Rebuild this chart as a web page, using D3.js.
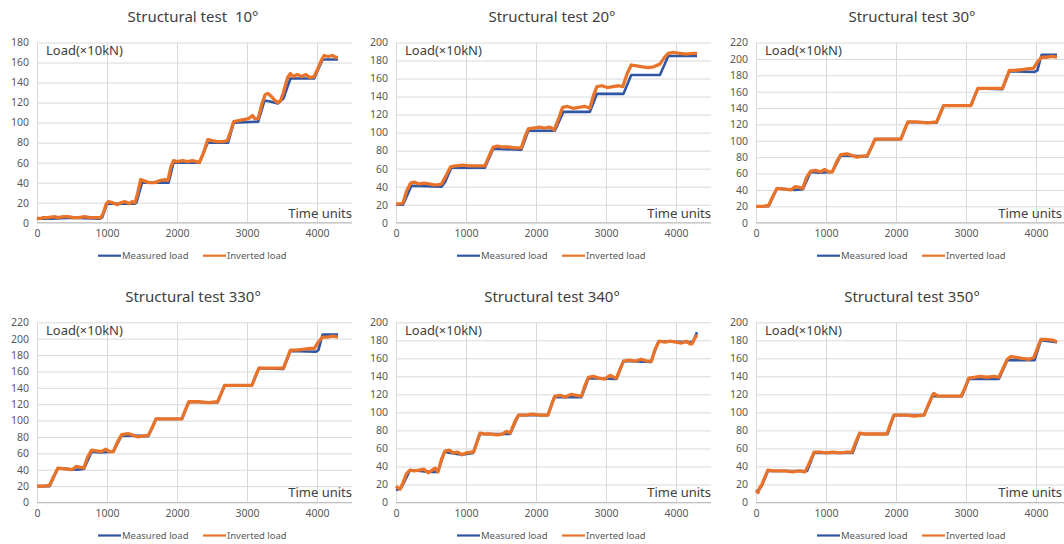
<!DOCTYPE html>
<html>
<head>
<meta charset="utf-8">
<script src="https://cdn.jsdelivr.net/npm/d3@7"></script>
<style>
  html, body { margin: 0; padding: 0; background: #fff; }
  svg { display: block; font-family: "Noto Sans", "Open Sans", sans-serif; }
</style>
</head>
<body>
<svg id="chart" width="1064" height="544"></svg>
<script>
// Load histories [time, load] for each structural test angle
const measured10 = [[0,4],[200,4],[500,5],[900,4],[930,5],[1000,19],[1400,19],[1420,20],[1500,40],[1880,40],[1950,60],[2320,60],[2440,80],[2730,80],[2810,100],[3160,101],[3250,122],[3330,121],[3440,119],[3520,124],[3620,144],[3960,144],[4080,163],[4300,163]];
const inverted10 = [[0,5],[40,4],[80,5],[150,5],[250,6],[300,5],[380,6],[450,6],[520,5],[600,5],[680,6],[760,5],[850,5],[910,5],[950,10],[990,19],[1020,21],[1080,20],[1150,18],[1200,20],[1260,21],[1320,19],[1360,21],[1400,20],[1440,30],[1480,43],[1520,42],[1600,40],[1680,40],[1760,42],[1830,43],[1870,42],[1910,55],[1950,62],[2000,61],[2080,62],[2150,61],[2220,62],[2280,61],[2320,60],[2380,70],[2440,83],[2500,82],[2580,81],[2660,81],[2720,82],[2770,92],[2810,101],[2880,102],[2950,103],[3020,104],[3080,107],[3110,104],[3160,104],[3210,118],[3260,128],[3300,129],[3350,126],[3400,122],[3440,120],[3480,122],[3520,130],[3580,145],[3620,149],[3660,146],[3720,148],[3780,146],[3840,148],[3900,145],[3960,146],[4000,152],[4060,162],[4100,167],[4160,166],[4220,167],[4270,165],[4300,165]];

const measured20 = [[0,20],[100,20],[220,41],[650,40],[700,45],[790,61],[1270,61],[1390,82],[1790,81],[1890,102],[2270,102],[2390,123],[2770,123],[2870,143],[3250,143],[3360,164],[3770,164],[3890,185],[4300,185]];
const inverted20 = [[0,21],[60,21],[100,22],[150,35],[210,44],[260,45],[330,43],[400,44],[470,43],[540,42],[600,42],[650,43],[700,50],[780,62],[850,63],[950,64],[1050,63],[1150,63],[1270,63],[1330,74],[1390,84],[1450,85],[1530,84],[1620,84],[1700,83],[1790,83],[1840,95],[1890,104],[1960,105],[2050,106],[2120,105],[2200,106],[2260,103],[2330,117],[2380,128],[2450,129],[2530,127],[2610,128],[2700,129],[2770,127],[2820,141],[2870,151],[2940,152],[3020,150],[3100,151],[3180,152],[3240,151],[3300,165],[3360,175],[3440,174],[3520,173],[3600,172],[3680,173],[3770,176],[3830,183],[3890,188],[3960,189],[4050,188],[4150,187],[4230,188],[4300,188]];

const measured30 = [[0,20],[180,20],[300,42],[420,41],[560,40],[670,41],[780,62],[900,61],[1090,62],[1210,82],[1590,81],[1700,102],[2070,102],[2170,123],[2580,122],[2680,143],[3070,143],[3170,164],[3520,163],[3620,185],[3980,184],[4020,186],[4080,205],[4300,205]];
const inverted30 = [[0,20],[100,20],[180,21],[240,32],[300,42],[400,41],[500,40],[560,44],[620,43],[670,42],[720,55],[780,63],[850,64],[920,62],[980,65],[1040,62],[1090,62],[1150,74],[1210,83],[1300,84],[1380,82],[1440,80],[1500,81],[1590,82],[1650,92],[1700,102],[1800,102],[1950,102],[2070,102],[2120,113],[2170,123],[2300,123],[2450,122],[2580,123],[2630,133],[2680,143],[2800,143],[2950,143],[3070,143],[3120,154],[3170,164],[3300,164],[3400,164],[3520,164],[3570,175],[3620,186],[3700,186],[3800,187],[3900,188],[3960,188],[4020,196],[4080,202],[4150,202],[4230,203],[4300,202]];

const measured330 = [[0,20],[180,20],[300,42],[420,41],[560,40],[670,41],[780,62],[900,61],[1090,62],[1210,82],[1590,81],[1700,102],[2070,102],[2170,123],[2580,122],[2680,143],[3070,143],[3170,164],[3520,163],[3620,185],[3980,184],[4020,186],[4080,205],[4300,205]];
const inverted330 = [[0,20],[100,20],[180,21],[240,32],[300,42],[400,41],[500,40],[560,44],[620,43],[670,42],[720,55],[780,64],[850,63],[920,62],[980,65],[1040,62],[1090,62],[1150,74],[1210,83],[1300,84],[1380,82],[1440,80],[1500,81],[1590,82],[1650,92],[1700,102],[1800,102],[1950,102],[2070,102],[2120,113],[2170,123],[2300,123],[2450,122],[2580,123],[2630,133],[2680,143],[2800,143],[2950,143],[3070,143],[3120,154],[3170,164],[3300,164],[3400,164],[3520,164],[3570,175],[3620,186],[3700,186],[3800,187],[3900,188],[3960,188],[4020,196],[4080,202],[4150,202],[4230,203],[4300,202]];

const measured340 = [[0,14],[50,15],[80,17],[200,36],[480,34],[600,34],[690,56],[940,53],[1100,55],[1200,76],[1630,76],[1750,97],[2170,97],[2260,117],[2650,117],[2750,138],[3150,137],[3250,157],[3640,156],[3750,179],[4200,178],[4240,178],[4300,189]];
const inverted340 = [[0,18],[30,16],[60,15],[100,22],[150,32],[200,36],[260,35],[330,36],[400,37],[460,33],[500,35],[560,38],[600,34],[650,48],[700,57],[760,58],[820,55],[880,56],[940,53],[1000,55],[1070,56],[1110,56],[1160,68],[1200,77],[1280,76],[1360,76],[1440,75],[1520,76],[1580,79],[1630,77],[1700,90],[1750,97],[1850,97],[1950,98],[2060,97],[2170,97],[2220,108],[2270,118],[2340,119],[2420,117],[2500,120],[2580,119],[2650,118],[2700,130],[2750,139],[2820,140],[2900,138],[2980,137],[3060,141],[3110,139],[3150,138],[3200,148],[3250,157],[3330,158],[3420,157],[3500,159],[3580,157],[3650,157],[3700,170],[3760,179],[3840,178],[3920,179],[4000,178],[4080,177],[4150,179],[4200,176],[4230,176],[4260,181],[4300,186]];

const measured350 = [[0,12],[40,14],[80,18],[170,35],[730,35],[830,55],[1380,55],[1480,76],[1880,76],[1970,97],[2400,97],[2520,118],[2940,118],[3040,137],[3470,137],[3590,158],[3980,158],[4070,180],[4300,178]];
const inverted350 = [[0,13],[30,11],[50,16],[80,19],[120,27],[170,36],[240,35],[320,35],[420,35],[520,34],[620,35],[700,34],[740,40],[830,56],[920,56],[1000,55],[1100,56],[1200,55],[1300,56],[1370,56],[1420,66],[1480,77],[1560,76],[1660,76],[1760,76],[1870,76],[1920,87],[1970,97],[2060,97],[2160,97],[2260,96],[2400,97],[2460,108],[2520,119],[2540,121],[2600,118],[2700,118],[2800,118],[2930,118],[2990,128],[3040,138],[3120,139],[3200,140],[3300,139],[3400,140],[3470,139],[3530,149],[3590,159],[3640,162],[3720,161],[3800,160],[3900,159],[3970,161],[4020,171],[4070,181],[4150,181],[4250,180],[4300,178]];

// Panel titles, y-axis maxima and tick values
const titles = ["Structural test  10°", "Structural test 20°", "Structural test 30°",
                "Structural test 330°", "Structural test 340°", "Structural test 350°"];
const yMaxima = [180, 200, 220, 220, 200, 200];
const xTicks = [0, 1000, 2000, 3000, 4000];
const seriesNames = ["Measured load", "Inverted load"];
const seriesColors = ["#2f55a4", "#e8732a"];

const panels = [
  { title: titles[0], yMax: yMaxima[0], measured: measured10,  inverted: inverted10 },
  { title: titles[1], yMax: yMaxima[1], measured: measured20,  inverted: inverted20 },
  { title: titles[2], yMax: yMaxima[2], measured: measured30,  inverted: inverted30 },
  { title: titles[3], yMax: yMaxima[3], measured: measured330, inverted: inverted330 },
  { title: titles[4], yMax: yMaxima[4], measured: measured340, inverted: inverted340 },
  { title: titles[5], yMax: yMaxima[5], measured: measured350, inverted: inverted350 }
];

const W = 1064;
const svg = d3.select("#chart");
const plotLefts = [37, 396, 756];
const plotTops = [42.5, 322.3];
const plotW = 315, plotH = 180.2;
const tickColor = "#595959";

panels.forEach((p, i) => {
  const col = i % 3, row = Math.floor(i / 3);
  const left = plotLefts[col], top = plotTops[row];
  const x = d3.scaleLinear().domain([0, 4500]).range([0, plotW]);
  const y = d3.scaleLinear().domain([0, p.yMax]).range([plotH, 0]);
  const g = svg.append("g").attr("transform", `translate(${left},${top})`);

  // horizontal gridlines
  const yTicks = d3.range(0, p.yMax + 1, 20);
  g.append("g")
    .call(d3.axisLeft(y).tickValues(yTicks).tickSize(-plotW).tickFormat(""))
    .call(a => a.select(".domain").remove())
    .call(a => a.selectAll("line").attr("stroke", "#d9d9d9").attr("stroke-width", 1));

  // vertical gridlines
  g.append("g")
    .attr("transform", `translate(0,${plotH})`)
    .call(d3.axisBottom(x).tickValues(xTicks).tickSize(-plotH).tickFormat(""))
    .call(a => a.select(".domain").remove())
    .call(a => a.selectAll("line").attr("stroke", "#d9d9d9").attr("stroke-width", 1));

  // x axis line
  g.append("line")
    .attr("x1", 0).attr("x2", plotW)
    .attr("y1", plotH).attr("y2", plotH)
    .attr("stroke", "#bfbfbf").attr("stroke-width", 1);

  // y tick labels
  g.append("g")
    .call(d3.axisLeft(y).tickValues(yTicks).tickSize(0).tickPadding(8))
    .call(a => a.select(".domain").remove())
    .call(a => a.selectAll("text").attr("fill", tickColor)
      .style("font-size", "10.5px").style("font-family", "'Noto Sans', sans-serif"));

  // x tick labels
  g.append("g")
    .attr("transform", `translate(0,${plotH})`)
    .call(d3.axisBottom(x).tickValues(xTicks).tickSize(0).tickPadding(7).tickFormat(d3.format("d")))
    .call(a => a.select(".domain").remove())
    .call(a => a.selectAll("text").attr("fill", tickColor)
      .style("font-size", "10.5px").style("font-family", "'Noto Sans', sans-serif"));

  // load lines
  const line = d3.line().x(d => x(d[0])).y(d => y(d[1]));
  g.append("path").datum(p.measured)
    .attr("d", line).attr("fill", "none")
    .attr("stroke", seriesColors[0]).attr("stroke-width", 2.6)
    .attr("stroke-linejoin", "round");
  g.append("path").datum(p.inverted)
    .attr("d", line).attr("fill", "none")
    .attr("stroke", seriesColors[1]).attr("stroke-width", 3.3)
    .attr("stroke-linejoin", "round");

  // axis titles inside the plot
  g.append("text")
    .attr("x", 9).attr("y", 12.5)
    .attr("fill", "#404040").style("font-size", "13px")
    .text("Load(×10kN)");
  g.append("text")
    .attr("x", Math.min(plotW, W - 2 - left)).attr("y", plotH - 5)
    .attr("text-anchor", "end")
    .attr("fill", "#404040").style("font-size", "13px")
    .text("Time units");

  // chart title
  svg.append("text")
    .attr("x", left + 156).attr("y", top - 20.5)
    .attr("text-anchor", "middle")
    .attr("fill", "#404040").style("font-size", "15px")
    .style("white-space", "pre")
    .text(p.title);

  // legend
  const lg = svg.append("g").attr("transform", `translate(${left},${top + plotH + 33})`);
  const legendX = [61, 166];
  seriesNames.forEach((name, k) => {
    lg.append("line")
      .attr("x1", legendX[k]).attr("x2", legendX[k] + 23)
      .attr("y1", 0).attr("y2", 0)
      .attr("stroke", seriesColors[k]).attr("stroke-width", 2.2);
    lg.append("text")
      .attr("x", legendX[k] + 24).attr("y", 3.5)
      .attr("fill", tickColor).style("font-size", "9.5px")
      .text(name);
  });
});
</script>
</body>
</html>
